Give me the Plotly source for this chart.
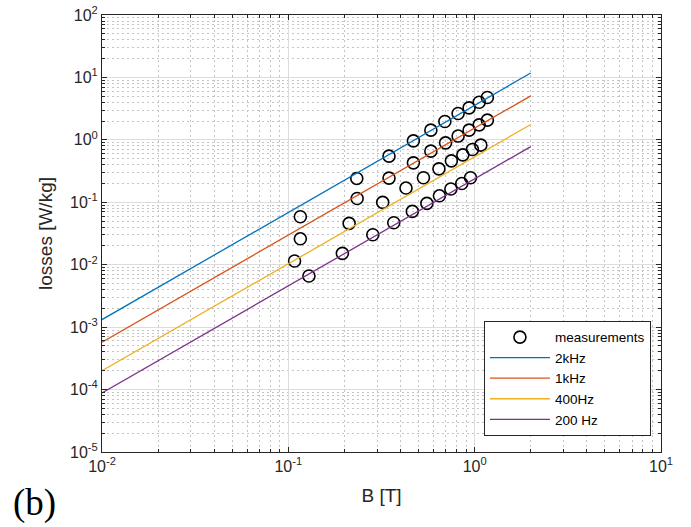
import plotly.graph_objects as go

# ---- data ----
# measurement points, B [T] and losses [W/kg], one set per frequency
b_2k = [0.116, 0.233, 0.347, 0.469, 0.582, 0.692, 0.815, 0.933, 1.057, 1.17]
p_2k = [0.0586, 0.241, 0.548, 0.964, 1.43, 1.97, 2.64, 3.25, 4.01, 4.77]
b_1k = [0.116, 0.234, 0.347, 0.469, 0.582, 0.698, 0.815, 0.933, 1.057, 1.17]
p_1k = [0.026, 0.115, 0.244, 0.428, 0.659, 0.895, 1.15, 1.43, 1.74, 2.07]
b_400 = [0.108, 0.212, 0.321, 0.428, 0.531, 0.643, 0.75, 0.864, 0.973, 1.079]
p_400 = [0.01146, 0.0459, 0.0996, 0.169, 0.247, 0.343, 0.461, 0.575, 0.701, 0.823]
b_200 = [0.129, 0.195, 0.284, 0.368, 0.463, 0.554, 0.647, 0.745, 0.853, 0.95]
p_200 = [0.00659, 0.0152, 0.0302, 0.047, 0.0715, 0.096, 0.127, 0.163, 0.2, 0.247]

# fitted model lines (straight on log-log), endpoints
line_b = [0.01, 2.0]
line_2k = [1.32e-3, 11.8]
line_1k = [5.75e-4, 5.06]
line_400 = [2.0e-4, 1.76]
line_200 = [8.85e-5, 0.78]

line_names = ["2kHz", "1kHz", "400Hz", "200 Hz"]
line_colors = ["#0072BD", "#D95319", "#EDB120", "#7E2F8E"]

x_tickvals = [0.01, 0.1, 1, 10]
x_ticktext = ["10<sup>-2</sup>", "10<sup>-1</sup>", "10<sup>0</sup>", "10<sup>1</sup>"]
y_tickvals = [1e-5, 1e-4, 1e-3, 1e-2, 1e-1, 1, 10, 100]
y_ticktext = ["10<sup>-5</sup>", "10<sup>-4</sup>", "10<sup>-3</sup>", "10<sup>-2</sup>",
              "10<sup>-1</sup>", "10<sup>0</sup>", "10<sup>1</sup>", "10<sup>2</sup>"]

# ---- figure ----
fig = go.Figure()

meas_b = b_2k + b_1k + b_400 + b_200
meas_p = p_2k + p_1k + p_400 + p_200
fig.add_trace(go.Scatter(
    x=meas_b, y=meas_p, mode="markers", name="measurements",
    marker=dict(symbol="circle-open", size=12, color="black", line=dict(width=1.6, color="black")),
))

for name, ys, col in zip(line_names, [line_2k, line_1k, line_400, line_200], line_colors):
    fig.add_trace(go.Scatter(x=line_b, y=ys, mode="lines", name=name,
                             line=dict(color=col, width=1.3)))

def minor_vals(e0, e1):
    return [k * 10.0 ** e for e in range(e0, e1) for k in range(2, 10)]

FONT = "Liberation Sans, Arial"
axis_common = dict(
    type="log", automargin=False,
    showline=True, linecolor="#262626", linewidth=1, mirror="allticks",
    ticks="inside", ticklen=5, tickcolor="#262626",
    showgrid=True, gridcolor="#dcdcdc", gridwidth=1,
    zeroline=False,
    tickfont=dict(family=FONT, size=16, color="#262626"),
)
minor_common = dict(tickmode="array", showgrid=True,
                    griddash="2px,3px", gridcolor="#c4c4c4", gridwidth=1,
                    ticks="inside", ticklen=3, tickcolor="#262626")

fig.update_xaxes(
    **axis_common,
    range=[-2, 1],
    tickmode="array", tickvals=x_tickvals, ticktext=x_ticktext,
    minor=dict(tickvals=minor_vals(-2, 1), **minor_common),
    title=dict(text="B [T]", font=dict(family=FONT, size=19, color="#262626"), standoff=14),
)
fig.update_yaxes(
    **axis_common,
    range=[-5, 2],
    tickmode="array", tickvals=y_tickvals, ticktext=y_ticktext,
    minor=dict(tickvals=minor_vals(-5, 2), **minor_common),
    title=dict(text="losses [W/kg]", font=dict(family=FONT, size=19, color="#262626"), standoff=12),
)

fig.add_annotation(
    text="(b)", xref="paper", yref="paper", x=-0.12, y=-0.117,
    xanchor="center", yanchor="middle", showarrow=False,
    font=dict(family="Liberation Serif, Times New Roman", size=37, color="black"),
)

fig.update_layout(
    width=691, height=527,
    margin=dict(l=102, r=30, t=15, b=75),
    paper_bgcolor="white", plot_bgcolor="white",
    showlegend=True,
    legend=dict(
        x=0.982, y=0.037, xanchor="right", yanchor="bottom",
        bgcolor="white", bordercolor="#262626", borderwidth=1,
        font=dict(family=FONT, size=13.5, color="black"),
        tracegroupgap=0, itemwidth=60,
    ),
)

# remove the default 8px page margin so the figure sits at the window origin
fig.write_html("out.html", config={"displayModeBar": False},
               post_script="document.body.style.margin='0';")
